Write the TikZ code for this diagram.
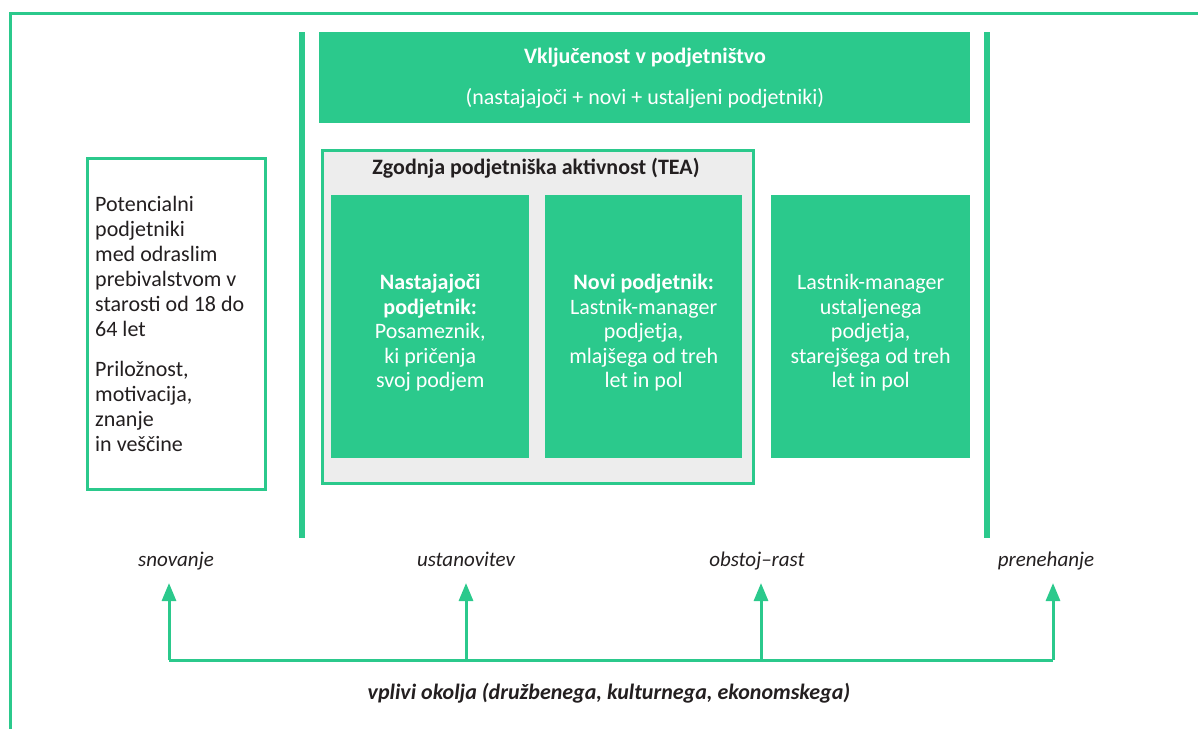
\documentclass[tikz,border=0pt]{standalone}
\usepackage{fontspec}
\setmainfont{Carlito}
\usetikzlibrary{arrows.meta}
\definecolor{grn}{HTML}{2BC98C}
\definecolor{txt}{HTML}{231F20}
\definecolor{teabg}{HTML}{EDEDED}
\begin{document}
\begin{tikzpicture}[x=1pt,y=-1pt,
  greenbox/.style={fill=grn, draw=none, text=white, inner sep=0pt, anchor=north west},
  boxtext/.style={text=white, font=\fontsize{22}{24.5}\selectfont, align=center, inner sep=0pt},
  phase/.style={text=txt, font=\fontsize{21}{24}\selectfont\itshape, inner sep=2pt},
  bar/.style={fill=grn, draw=none},
  arr/.style={draw=grn, line width=3pt, -{Triangle[width=14pt,length=18pt]}},
  link/.style={draw=grn, line width=3pt}]
\useasboundingbox (0,0) rectangle (1198,729);
% outer frame
\draw[grn, line width=3pt] (10,729) -- (10,13) -- (1198,13);
% vertical bars
\fill[bar] (299,32) rectangle (305,538);
\fill[bar] (984,32) rectangle (990,538);
% top box
\node[greenbox, minimum width=651pt, minimum height=91pt] (top) at (319,32) {};
\node[text=white, font=\fontsize{22}{24}\selectfont\bfseries] (toptitle) at (645,58) {Vključenost v podjetništvo};
\node[text=white, font=\fontsize{22}{24}\selectfont] (topsub) at (645,98) {(nastajajoči + novi + ustaljeni podjetniki)};
% TEA box
\node[draw=grn, line width=3pt, fill=teabg, anchor=north west, minimum width=431pt, minimum height=333pt, inner sep=0pt] (tea) at (320.5,148.5) {};
\node[text=txt, font=\fontsize{22}{24}\selectfont\bfseries] (teatitle) at (536,168) {Zgodnja podjetniška aktivnost (TEA)};
% inner boxes
\node[greenbox, minimum width=198pt, minimum height=263pt] (b1) at (331,195) {};
\node[boxtext] (b1t) at ([yshift=-6pt]b1.center) {\bfseries Nastajajoči\\\bfseries podjetnik:\\Posameznik,\\ki pričenja\\svoj podjem};
\node[greenbox, minimum width=197pt, minimum height=263pt] (b2) at (545,195) {};
\node[boxtext] (b2t) at ([yshift=-6pt]b2.center) {\bfseries Novi podjetnik:\\Lastnik-manager\\podjetja,\\mlajšega od treh\\let in pol};
\node[greenbox, minimum width=199pt, minimum height=263pt] (b3) at (771,195) {};
\node[boxtext] (b3t) at ([yshift=-6pt]b3.center) {Lastnik-manager\\ustaljenega\\podjetja,\\starejšega od treh\\let in pol};
% left box
\node[draw=grn, line width=3pt, fill=white, anchor=north west, minimum width=178pt, minimum height=331pt, inner sep=0pt] (pot) at (85.5,156.5) {};
\node[text=txt, anchor=north west, inner sep=0pt, align=left, font=\fontsize{22}{25}\selectfont] (pottext) at (95,196) {Potencialni\\podjetniki\\med odraslim\\prebivalstvom v\\starosti od 18 do\\64 let\\[15pt]Priložnost,\\motivacija,\\znanje\\in veščine};
% phase labels
\node[phase] (snov) at (176,561) {snovanje};
\node[phase] (ust) at (466,559) {ustanovitev};
\node[phase] (obs) at (757,561) {obstoj–rast};
\node[phase] (pren) at (1046,561) {prenehanje};
% bottom connectors
\coordinate (j1) at (169,660);
\coordinate (j2) at (466,660);
\coordinate (j3) at (761,660);
\coordinate (j4) at (1053,660);
\draw[link] (j1) -- (j4);
\draw[arr] (j1) -- (j1 |- 0,583);
\draw[arr] (j2) -- (j2 |- 0,583);
\draw[arr] (j3) -- (j3 |- 0,583);
\draw[arr] (j4) -- (j4 |- 0,583);
\node[text=txt, font=\fontsize{22}{24}\selectfont\bfseries\itshape] (env) at (609,693) {vplivi okolja (družbenega, kulturnega, ekonomskega)};
\end{tikzpicture}
\end{document}
